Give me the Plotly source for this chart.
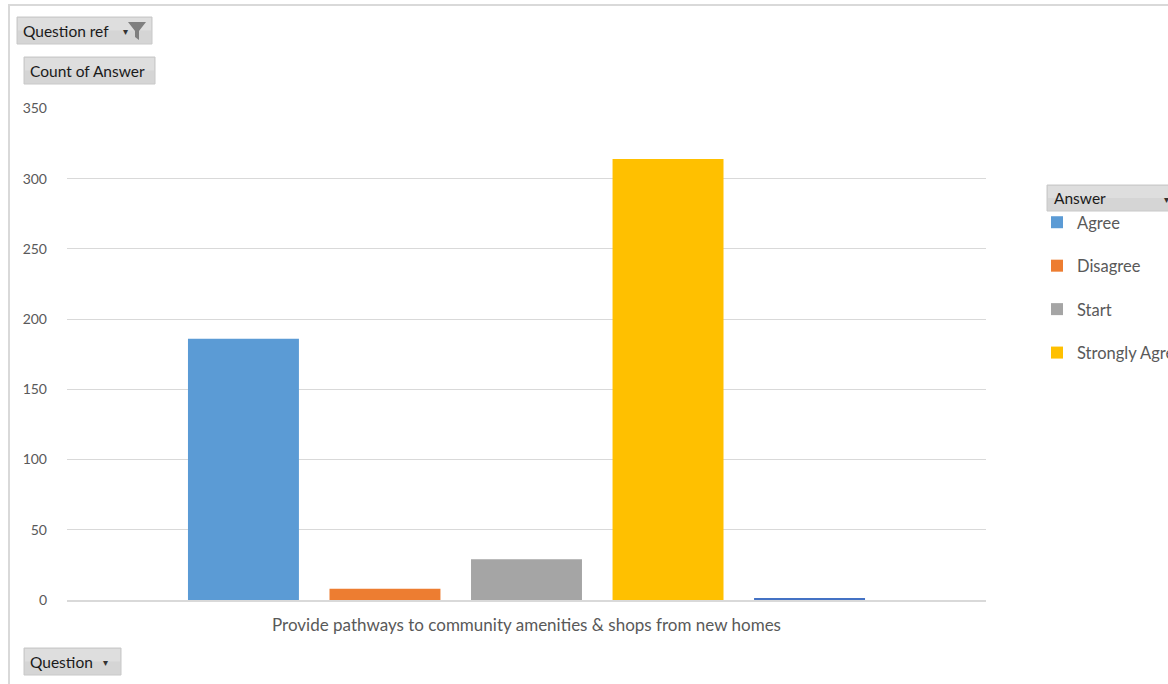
import plotly.graph_objects as go

categories = ["Provide pathways to community amenities & shops from new homes"]
answers = ["Agree", "Disagree", "Start", "Strongly Agree", "(blank)"]
counts = [186, 8, 29, 314, 1]
colors = ["#5B9BD5", "#ED7D31", "#A5A5A5", "#FFC000", "#4472C4"]
show_in_legend = [True, True, True, True, False]
y_ticks = [0, 50, 100, 150, 200, 250, 300, 350]

W, H = 1168, 684
L, R, T, B = 67, 986, 108, 600
FONT = "Lato, Carlito, Calibri, sans-serif"
GREY_TXT = "#595959"


def px(x):
    return (x - L) / (R - L)


def py(y):
    return (B - y) / (B - T)


fig = go.Figure()
for name, val, col, sl in zip(answers, counts, colors, show_in_legend):
    fig.add_trace(go.Bar(
        x=categories, y=[val], name=name, marker_color=col,
        marker_line_width=0, showlegend=sl, legendgroup=name,
    ))

shapes = []
annotations = []

# outer chart border
shapes.append(dict(type="rect", xref="paper", yref="paper",
                   x0=px(9), x1=px(1175), y0=py(5), y1=py(690),
                   line=dict(color="#d9d9d9", width=2), fillcolor="rgba(0,0,0,0)", layer="below"))


def button(x0, y0, x1, y1, text, tx, arrow_x=None):
    shapes.append(dict(type="rect", xref="paper", yref="paper",
                       x0=px(x0), x1=px(x1), y0=py(y0), y1=py(y1),
                       line=dict(color="#c8c8c8", width=1), fillcolor="#d5d5d5", layer="above"))
    shapes.append(dict(type="rect", xref="paper", yref="paper",
                       x0=px(x0 + 1), x1=px(x1 - 1), y0=py(y0 + 1), y1=py((y0 + y1) / 2),
                       line=dict(width=0), fillcolor="#dedede", layer="above"))
    annotations.append(dict(xref="paper", yref="paper", x=px(tx), y=py((y0 + y1) / 2),
                            xanchor="left", yanchor="middle", showarrow=False, text=text,
                            font=dict(family=FONT, size=15.5, color="#1a1a1a")))
    if arrow_x is not None:
        annotations.append(dict(xref="paper", yref="paper", x=px(arrow_x), y=py((y0 + y1) / 2 + 1),
                                xanchor="center", yanchor="middle", showarrow=False, text="▾",
                                font=dict(family="DejaVu Sans", size=10, color="#333333")))


button(17, 17, 152, 44, "Question ref", 21, 125)
button(24, 57, 155, 84, "Count of Answer", 28)
button(24, 648, 121, 675, "Question", 28, 105)
button(1047, 185, 1180, 211, "Answer", 1052, 1166)

# funnel icon
fx = [128, 146, 139, 139, 135, 135]
fy = [22, 22, 31, 40, 37, 31]
path = "M " + " L ".join(f"{px(a)},{py(b)}" for a, b in zip(fx, fy)) + " Z"
shapes.append(dict(type="path", xref="paper", yref="paper", path=path,
                   fillcolor="#7f7f7f", line=dict(width=0), layer="above"))

fig.update_layout(
    width=W, height=H,
    margin=dict(l=L, r=W - R, t=T, b=H - B, autoexpand=False),
    paper_bgcolor="white", plot_bgcolor="white",
    barmode="group", bargap=0.23, bargroupgap=0.216,
    font=dict(family=FONT, size=15, color=GREY_TXT),
    xaxis=dict(showgrid=False, showline=True, linecolor="#d9d9d9", linewidth=2,
               ticks="", tickfont=dict(size=17, color=GREY_TXT), ticklabelstandoff=9),
    yaxis=dict(range=[0, 350.4], tickvals=y_ticks, showgrid=True, gridcolor="#d9d9d9",
               gridwidth=1, zeroline=False, showline=False, ticks="",
               tickfont=dict(size=14, color=GREY_TXT), ticklabelstandoff=19),
    legend=dict(x=px(1037), y=py(205), xanchor="left", yanchor="top",
                font=dict(family=FONT, size=16.5, color=GREY_TXT),
                tracegroupgap=19, traceorder="grouped", itemwidth=30,
                bgcolor="rgba(0,0,0,0)"),
    shapes=shapes, annotations=annotations,
)

fig.write_html("out.html", config={"displayModeBar": False},
               post_script="document.body.style.margin='0';")
